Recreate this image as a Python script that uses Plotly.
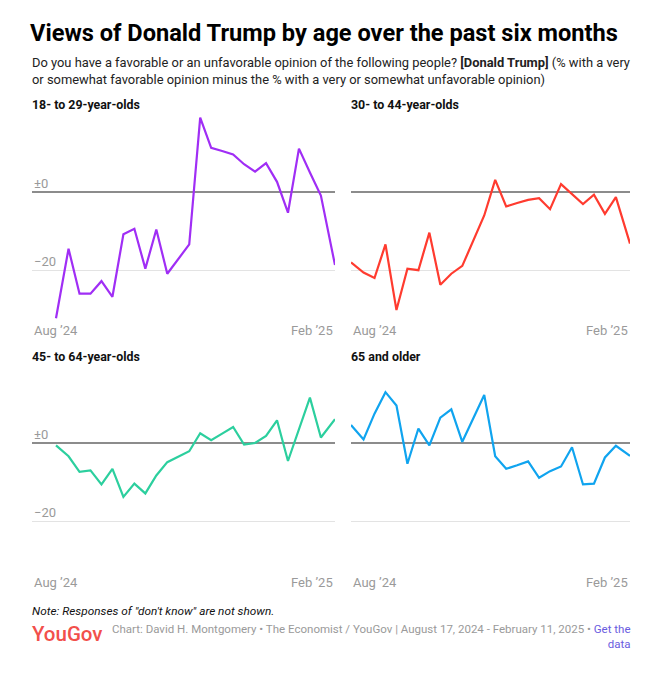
import pandas as pd
import plotly.graph_objects as go

W, H = 653, 683

dates = ["2024-08-17", "2024-08-25", "2024-09-01", "2024-09-08", "2024-09-15",
         "2024-09-22", "2024-09-29", "2024-10-06", "2024-10-13", "2024-10-20",
         "2024-10-27", "2024-11-03", "2024-11-10", "2024-11-17", "2024-11-24",
         "2024-12-01", "2024-12-08", "2024-12-15", "2024-12-22", "2024-12-29",
         "2025-01-05", "2025-01-12", "2025-01-19", "2025-01-26", "2025-02-02",
         "2025-02-11"]

age_18_29 = [-32.3, -14.5, -26.0, -26.0, -22.8, -26.8, -10.8, -9.4, -19.6, -9.6,
             -20.9, -17.1, -13.4, 19.0, 11.3, 10.5, 9.6, 7.1, 5.2, 7.4,
             2.6, -5.3, 11.1, 5.0, -0.9, -18.7]
age_30_44 = [-18.0, -20.6, -22.0, -13.4, -30.2, -19.6, -20.0, -10.4, -23.7, -20.9,
             -18.9, -12.4, -6.0, 3.1, -3.7, -2.8, -2.0, -1.6, -4.4, 2.0,
             -0.6, -3.1, -0.7, -5.6, -1.3, -13.2]
age_45_64 = [-0.6, -3.4, -7.4, -7.0, -10.6, -6.6, -13.8, -10.4, -12.9, -8.3,
             -4.9, -3.5, -2.1, 2.5, 0.7, 2.4, 4.1, -0.4, 0.0, 1.8,
             5.8, -4.6, 3.5, 11.6, 1.4, 6.1]
age_65_plus = [4.6, 0.9, 7.5, 13.0, 9.6, -5.3, 3.7, -0.6, 6.5, 8.6,
               0.3, 6.2, 12.3, -3.4, -6.6, -5.7, -4.7, -8.9, -7.2, -6.0,
               -1.1, -10.6, -10.4, -3.7, -0.7, -3.3]

panel_titles = ["18- to 29-year-olds", "30- to 44-year-olds",
                "45- to 64-year-olds", "65 and older"]
colors = ["#a02ef5", "#ff3b2f", "#2ccf9e", "#10a4ef"]
series = [age_18_29, age_30_44, age_45_64, age_65_plus]
y_ticks = [0, -20]
y_tick_labels = ["±0", "−20"]
x_labels = ["Aug ’24", "Feb ’25"]

FONT = "Roboto"
GRAY = "#9a9a9a"

def px(x):
    return x / W

def py(y):
    return 1 - y / H

panels = [
    dict(left=32, data_left=56, right=335, zero=192, title_y=104, label_y=330),
    dict(left=351, data_left=351, right=630, zero=192, title_y=104, label_y=330),
    dict(left=32, data_left=56, right=335, zero=443, title_y=356, label_y=582),
    dict(left=351, data_left=351, right=630, zero=443, title_y=356, label_y=582),
]
PX_PER_UNIT = 3.91
Y_RANGE = [-34, 20]

d = pd.to_datetime(dates)
span = (d[-1] - d[0])

fig = go.Figure()
annotations = []
for i, (p, vals, col, title) in enumerate(zip(panels, series, colors, panel_titles)):
    n = i + 1
    xa = "x" if n == 1 else f"x{n}"
    ya = "y" if n == 1 else f"y{n}"
    fig.add_trace(go.Scatter(x=d, y=vals, mode="lines", xaxis=xa, yaxis=ya,
                             line=dict(color=col, width=2.2), hoverinfo="x+y",
                             showlegend=False))
    data_w = p["right"] - p["data_left"]
    start = d[0] - span * ((p["data_left"] - p["left"]) / data_w)
    top_px = p["zero"] - Y_RANGE[1] * PX_PER_UNIT
    bot_px = p["zero"] - Y_RANGE[0] * PX_PER_UNIT
    xkey = "xaxis" if n == 1 else f"xaxis{n}"
    ykey = "yaxis" if n == 1 else f"yaxis{n}"
    fig.update_layout(**{
        xkey: dict(domain=[px(p["left"]), px(p["right"])], range=[start, d[-1]],
                   anchor=ya, showgrid=False, showticklabels=False, zeroline=False,
                   showline=False, fixedrange=True),
        ykey: dict(domain=[py(bot_px), py(top_px)], range=Y_RANGE, anchor=xa,
                   tickvals=y_ticks, showticklabels=False, showgrid=True,
                   gridcolor="#e3e3e3", gridwidth=1, zeroline=True,
                   zerolinecolor="#8c8c8c", zerolinewidth=1.6, showline=False,
                   fixedrange=True),
    })
    annotations.append(dict(text=f"<b>{title}</b>", xref="paper", yref="paper",
                            x=px(p["left"] - 2), y=py(p["title_y"]), xanchor="left",
                            yanchor="middle", showarrow=False,
                            font=dict(family=FONT, size=12.4, color="#111", weight=900)))
    annotations.append(dict(text=x_labels[0], xref="paper", yref="paper",
                            x=px(p["left"]), y=py(p["label_y"]), xanchor="left",
                            yanchor="middle", showarrow=False,
                            font=dict(family=FONT, size=13, color=GRAY)))
    annotations.append(dict(text=x_labels[1], xref="paper", yref="paper",
                            x=px(p["right"]), y=py(p["label_y"]), xanchor="right",
                            yanchor="middle", showarrow=False,
                            font=dict(family=FONT, size=13, color=GRAY)))
    if p["left"] != p["data_left"]:
        for tv, tl in zip(y_ticks, y_tick_labels):
            annotations.append(dict(text=tl, xref="paper", yref=ya, x=px(p["left"]),
                                    y=tv, xanchor="left", yanchor="bottom",
                                    yshift=-1, showarrow=False,
                                    font=dict(family=FONT, size=13, color=GRAY)))

annotations += [
    dict(text="<b>Views of Donald Trump by age over the past six months</b>",
         xref="paper", yref="paper", x=px(28), y=py(33), xanchor="left",
         yanchor="middle", showarrow=False,
         font=dict(family=FONT, size=23.6, color="#000", weight=900)),
    dict(text="Do you have a favorable or an unfavorable opinion of the following people? "
              "<b>[Donald Trump]</b> (% with a very<br>or somewhat favorable opinion minus "
              "the % with a very or somewhat unfavorable opinion)",
         xref="paper", yref="paper", x=px(30), y=py(71), xanchor="left",
         yanchor="middle", align="left", showarrow=False,
         font=dict(family=FONT, size=12.9, color="#222")),
    dict(text="<i>Note: Responses of \"don't know\" are not shown.</i>",
         xref="paper", yref="paper", x=px(30), y=py(611), xanchor="left",
         yanchor="middle", showarrow=False,
         font=dict(family=FONT, size=11.8, color="#111")),
    dict(text="YouGov", xref="paper", yref="paper", x=px(30), y=py(634),
         xanchor="left", yanchor="middle", showarrow=False,
         font=dict(family=FONT, size=20.5, color="#f2504b", weight=500)),
    dict(text="Chart: David H. Montgomery • The Economist / YouGov | August 17, 2024 - "
              "February 11, 2025 • <span style='color:#6a5ce0'>Get the</span><br>"
              "<span style='color:#6a5ce0'>data</span>",
         xref="paper", yref="paper", x=px(633), y=py(636), xanchor="right",
         yanchor="middle", align="right", showarrow=False,
         font=dict(family=FONT, size=11.5, color=GRAY)),
]

fig.update_layout(width=W, height=H, margin=dict(l=0, r=0, t=0, b=0),
                  paper_bgcolor="white", plot_bgcolor="white",
                  annotations=annotations, font=dict(family=FONT))

fig.write_html("out.html", config={"displayModeBar": False},
               post_script="document.body.style.margin='0';"
                           "document.body.style.overflow='hidden';")
